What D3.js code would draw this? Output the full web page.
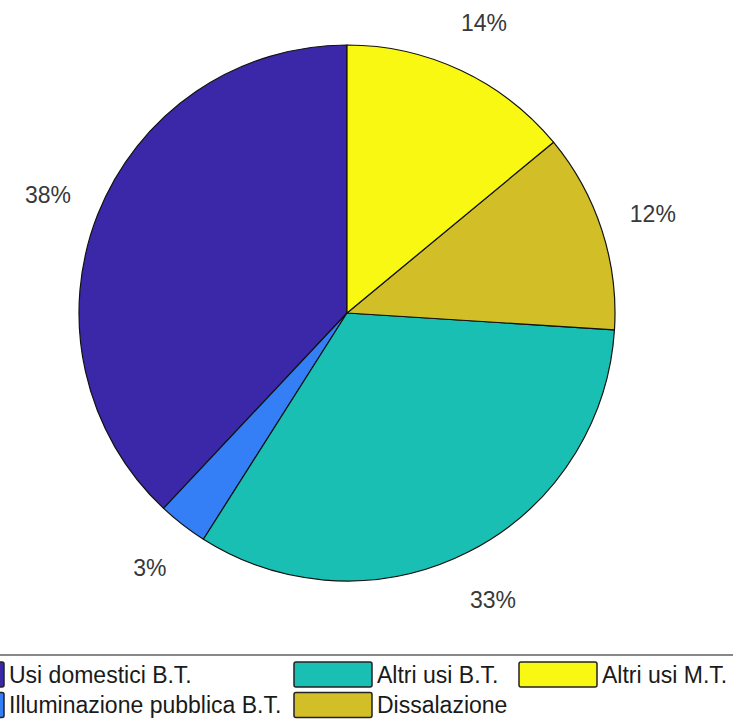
<!DOCTYPE html>
<html>
<head>
<meta charset="utf-8">
<script src="https://cdn.jsdelivr.net/npm/d3@7"></script>
<style>
  body { margin: 0; background: #fff; }
  svg { display: block; font-family: "Liberation Sans", Arial, sans-serif; }
</style>
</head>
<body>
<svg id="chart" width="733" height="721"></svg>
<script>
// categories in the original (legend) order
var categories = ["Usi domestici B.T.", "Illuminazione pubblica B.T.", "Altri usi B.T.", "Dissalazione", "Altri usi M.T."];
var values = [38, 3, 33, 12, 14];
var labels = ["38%", "3%", "33%", "12%", "14%"];
var colors = ["#3b28a9", "#347ff5", "#1abfb4", "#d2be27", "#f9f812"];

var CX = 347, CY = 313, R = 268;
var svg = d3.select("#chart");

// pie goes counterclockwise from 12 o'clock, like matlab
var pie = d3.pie().sort(null).value(function(d){ return d; })
  .startAngle(0).endAngle(-2 * Math.PI);
var arcs = pie(values);
var arc = d3.arc().innerRadius(0).outerRadius(R);

var g = svg.append("g").attr("transform", "translate(" + CX + "," + CY + ")");

g.selectAll("path.slice")
  .data(arcs)
  .enter().append("path")
  .attr("class", "slice")
  .attr("d", arc)
  .attr("fill", function(d, i){ return colors[i]; })
  .attr("stroke", "#111")
  .attr("stroke-width", 1.2)
  .attr("stroke-linejoin", "round");

// labels at 1.2 * radius, centered
g.selectAll("text.pct")
  .data(arcs)
  .enter().append("text")
  .attr("class", "pct")
  .attr("x", function(d){ var a = (d.startAngle + d.endAngle) / 2; return 1.2 * R * Math.sin(a); })
  .attr("y", function(d){ var a = (d.startAngle + d.endAngle) / 2; return -1.2 * R * Math.cos(a) + 8.5; })
  .attr("text-anchor", "middle")
  .attr("font-size", 23)
  .attr("fill", "#383838")
  .text(function(d, i){ return labels[i]; });

// legend (3 columns, filled column by column), left part runs off the picture
var legend = svg.append("g").attr("class", "legend");
legend.append("rect")
  .attr("x", -120).attr("y", 655)
  .attr("width", 900).attr("height", 100)
  .attr("fill", "#fff")
  .attr("stroke", "#888")
  .attr("stroke-width", 2);

var colX = [-74, 294, 519], rowY = [674.5, 705];
var SW = 78, SH = 25;

var items = legend.selectAll("g.item")
  .data(categories)
  .enter().append("g")
  .attr("class", "item")
  .attr("transform", function(d, i){
    return "translate(" + colX[Math.floor(i / 2)] + "," + rowY[i % 2] + ")";
  });

items.append("rect")
  .attr("x", 0).attr("y", -SH / 2)
  .attr("width", SW).attr("height", SH)
  .attr("rx", 2)
  .attr("fill", function(d, i){ return colors[i]; })
  .attr("stroke", "#222")
  .attr("stroke-width", 1.5);

items.append("text")
  .attr("x", SW + 5)
  .attr("y", 8.3)
  .attr("font-size", 23)
  .attr("fill", "#1a1a1a")
  .text(function(d){ return d; });
</script>
</body>
</html>
